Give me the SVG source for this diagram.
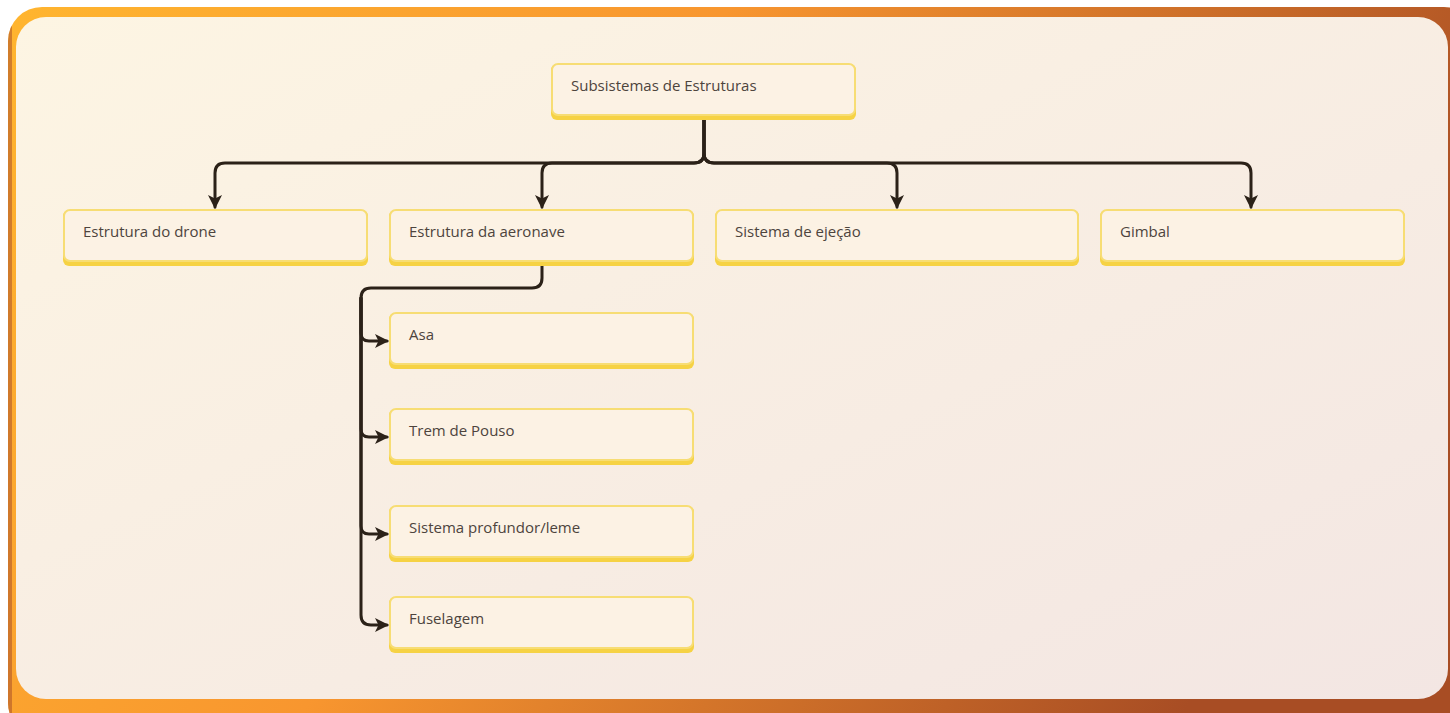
<svg xmlns="http://www.w3.org/2000/svg" width="1450" height="713" viewBox="0 0 1450 713">
<defs>
<linearGradient id="frame" x1="0" y1="0" x2="1" y2="0.3">
<stop offset="0" stop-color="#ffb52f"/>
<stop offset="0.45" stop-color="#f8962f"/>
<stop offset="1" stop-color="#a84d24"/>
</linearGradient>
<linearGradient id="panel" x1="0" y1="0" x2="1" y2="1">
<stop offset="0" stop-color="#fdf5e3"/>
<stop offset="1" stop-color="#f3e6e3"/>
</linearGradient>
<clipPath id="fclip"><rect x="8" y="7" width="1470" height="730" rx="34"/></clipPath>
<marker id="arr" viewBox="0 0 14 14" refX="12" refY="7" markerWidth="14" markerHeight="14" markerUnits="userSpaceOnUse" orient="auto">
<path d="M0,0 L14,7 L0,14 L3.5,7 Z" fill="#2b2118"/>
</marker>
<style>
.node rect.b{fill:#f6d244;}
.node rect.f{fill:#fcf2e4;stroke:#f7dd74;stroke-width:2;}
.node text{font-family:"Open Sans","Noto Sans",sans-serif;font-size:15px;fill:#4d443d;}
.conn path{fill:none;stroke:#2b2118;stroke-width:3;stroke-linecap:round;stroke-linejoin:round;}
</style>
</defs>
<rect x="0" y="0" width="1450" height="713" fill="#ffffff"/>
<rect x="8" y="7" width="1470" height="730" rx="34" fill="url(#frame)"/>
<rect x="8" y="0" width="4" height="713" fill="#b2592a" opacity="0.6" clip-path="url(#fclip)"/>
<rect x="16" y="17" width="1432" height="682" rx="30" fill="url(#panel)"/>

<g class="conn">
<path d="M704,119 V153 Q704,163 694,163 H225 Q215,163 215,173 V207" marker-end="url(#arr)"/>
<path d="M704,119 V153 Q704,163 694,163 H552 Q542,163 542,173 V207" marker-end="url(#arr)"/>
<path d="M704,119 V153 Q704,163 714,163 H887 Q897,163 897,173 V207" marker-end="url(#arr)"/>
<path d="M704,119 V153 Q704,163 714,163 H1241 Q1251,163 1251,173 V207" marker-end="url(#arr)"/>
<path d="M542,265 V278 Q542,288 532,288 H371 Q361,288 361,298 V333 Q361,341 369,341 H387" marker-end="url(#arr)"/>
<path d="M361,298 V429 Q361,437 369,437 H387" marker-end="url(#arr)"/>
<path d="M361,298 V526 Q361,534 369,534 H387" marker-end="url(#arr)"/>
<path d="M361,298 V615 Q361,625 371,625 H387" marker-end="url(#arr)"/>
</g>

<g id="n-root" class="node"><rect class="b" x="551" y="64" width="305" height="56" rx="6"/><rect class="f" x="552" y="64" width="303" height="51" rx="6"/><text x="571" y="91">Subsistemas de Estruturas</text></g>
<g id="n-drone" class="node"><rect class="b" x="63" y="210" width="305" height="56" rx="6"/><rect class="f" x="64" y="210" width="303" height="51" rx="6"/><text x="83" y="237">Estrutura do drone</text></g>
<g id="n-aeronave" class="node"><rect class="b" x="389" y="210" width="305" height="56" rx="6"/><rect class="f" x="390" y="210" width="303" height="51" rx="6"/><text x="409" y="237">Estrutura da aeronave</text></g>
<g id="n-ejecao" class="node"><rect class="b" x="715" y="210" width="364" height="56" rx="6"/><rect class="f" x="716" y="210" width="362" height="51" rx="6"/><text x="735" y="237">Sistema de ejeção</text></g>
<g id="n-gimbal" class="node"><rect class="b" x="1100" y="210" width="305" height="56" rx="6"/><rect class="f" x="1101" y="210" width="303" height="51" rx="6"/><text x="1120" y="237">Gimbal</text></g>
<g id="n-asa" class="node"><rect class="b" x="389" y="313" width="305" height="56" rx="6"/><rect class="f" x="390" y="313" width="303" height="51" rx="6"/><text x="409" y="340">Asa</text></g>
<g id="n-trem" class="node"><rect class="b" x="389" y="409" width="305" height="56" rx="6"/><rect class="f" x="390" y="409" width="303" height="51" rx="6"/><text x="409" y="436">Trem de Pouso</text></g>
<g id="n-profundor" class="node"><rect class="b" x="389" y="506" width="305" height="56" rx="6"/><rect class="f" x="390" y="506" width="303" height="51" rx="6"/><text x="409" y="533">Sistema profundor/leme</text></g>
<g id="n-fuselagem" class="node"><rect class="b" x="389" y="597" width="305" height="56" rx="6"/><rect class="f" x="390" y="597" width="303" height="51" rx="6"/><text x="409" y="624">Fuselagem</text></g>
</svg>
